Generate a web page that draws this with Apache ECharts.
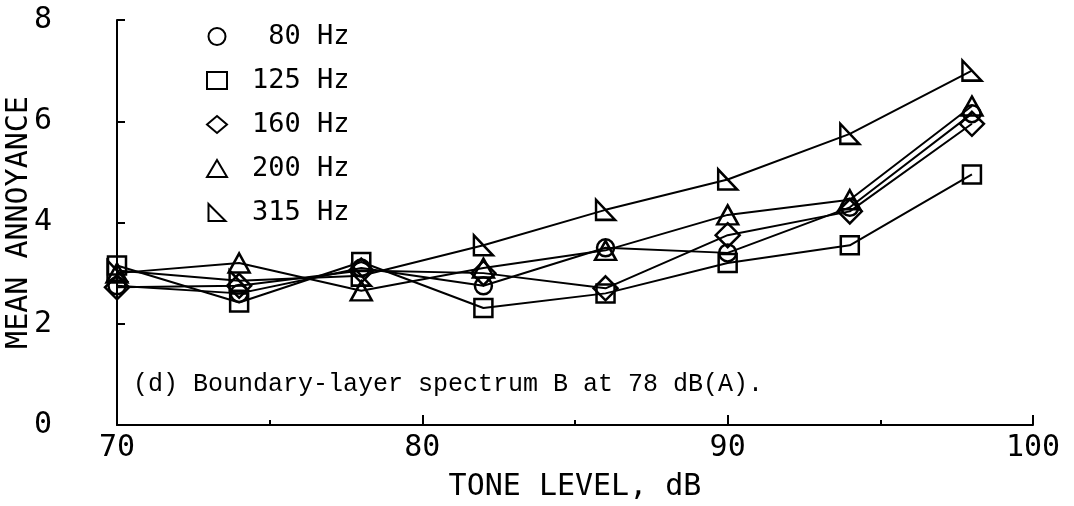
<!DOCTYPE html>
<html>
<head>
<meta charset="utf-8">
<script src="https://cdn.jsdelivr.net/npm/echarts@6/dist/echarts.min.js"></script>
<style>html,body{margin:0;padding:0;background:#fff;}#c{width:1074px;height:506px;}</style>
</head>
<body>
<div id="c"></div>
<script>
const toneLevel = [70, 74, 78, 82, 86, 90, 94, 98];
const hz80  = [2.75, 2.6, 3.1, 2.75, 3.5, 3.4, 4.3, 6.15];
const hz125 = [3.15, 2.42, 3.22, 2.31, 2.6, 3.2, 3.55, 4.95];
const hz160 = [2.72, 2.75, 3.05, 3.0, 2.7, 3.75, 4.22, 5.95];
const hz200 = [3.0, 3.2, 2.65, 3.1, 3.45, 4.15, 4.45, 6.3];
const hz315 = [3.05, 2.85, 2.95, 3.55, 4.25, 4.85, 5.75, 7.0];
const seriesNames = ['80 Hz', '125 Hz', '160 Hz', '200 Hz', '315 Hz'];
const legendLabels = [' 80 Hz', '125 Hz', '160 Hz', '200 Hz', '315 Hz'];
const annotation = '(d) Boundary-layer spectrum B at 78 dB(A).';

const rtri = 'path://M0,0 L0,10 L10,10 Z';
const symbols = ['circle', 'rect', 'diamond', 'triangle', rtri];
const sizes = [17, 18, [24, 24], [21, 19], [19, 20]];
const values = [hz80, hz125, hz160, hz200, hz315];

const mono = 'DejaVu Sans Mono';
const hollow = { color: 'rgba(0,0,0,0)', borderColor: '#000', borderWidth: 2.5 };
const legendHollow = { color: 'rgba(0,0,0,0)', borderColor: '#000', borderWidth: 2 };

const series = seriesNames.map((n, i) => ({
  name: n,
  type: 'line',
  data: toneLevel.map((x, j) => [x, values[i][j]]),
  symbol: symbols[i],
  symbolSize: sizes[i],
  itemStyle: hollow,
  lineStyle: { color: '#000', width: 2 },
  emphasis: { disabled: true },
  animation: false
}));

const chart = echarts.init(document.getElementById('c'), null, { renderer: 'canvas' });
chart.setOption({
  backgroundColor: '#fff',
  animation: false,
  grid: { left: 117, right: 41, top: 20, bottom: 81, containLabel: false, outerBoundsMode: 'none' },
  title: {
    text: annotation,
    left: 128, top: 367,
    textStyle: { fontFamily: 'Liberation Mono', fontSize: 25, fontWeight: 'normal', color: '#000' }
  },
  legend: {
    orient: 'vertical',
    left: 201, top: 18,
    itemWidth: 20, itemHeight: 17, itemGap: 17,
    selectedMode: false,
    data: seriesNames.map((n, i) => ({ name: n, icon: symbols[i], itemStyle: legendHollow })),
    formatter: name => legendLabels[seriesNames.indexOf(name)],
    textStyle: { fontFamily: mono, fontSize: 27, color: '#000', padding: [0, 0, 0, 20] }
  },
  xAxis: {
    type: 'value', min: 70, max: 100, interval: 10,
    name: 'TONE LEVEL, dB', nameLocation: 'middle', nameGap: 47, nameMoveOverlap: false,
    nameTextStyle: { fontFamily: mono, fontSize: 30, color: '#000' },
    axisLine: { show: true, lineStyle: { color: '#000', width: 2 } },
    axisTick: { show: true, inside: true, length: 10, lineStyle: { color: '#000', width: 2 } },
    minorTick: { show: true, splitNumber: 2, length: 5, lineStyle: { color: '#000', width: 2 } },
    axisLabel: { fontFamily: mono, fontSize: 30, color: '#000', margin: 8 },
    splitLine: { show: false }
  },
  yAxis: {
    type: 'value', min: 0, max: 8, interval: 2,
    name: 'MEAN ANNOYANCE', nameLocation: 'middle', nameGap: 83, nameRotate: 90, nameMoveOverlap: false,
    nameTextStyle: { fontFamily: mono, fontSize: 30, color: '#000' },
    axisLine: { show: true, lineStyle: { color: '#000', width: 2 } },
    axisTick: { show: true, inside: true, length: 8, lineStyle: { color: '#000', width: 2 } },
    axisLabel: { fontFamily: mono, fontSize: 30, color: '#000', margin: 65 },
    splitLine: { show: false }
  },
  series: series
});
</script>
</body>
</html>
